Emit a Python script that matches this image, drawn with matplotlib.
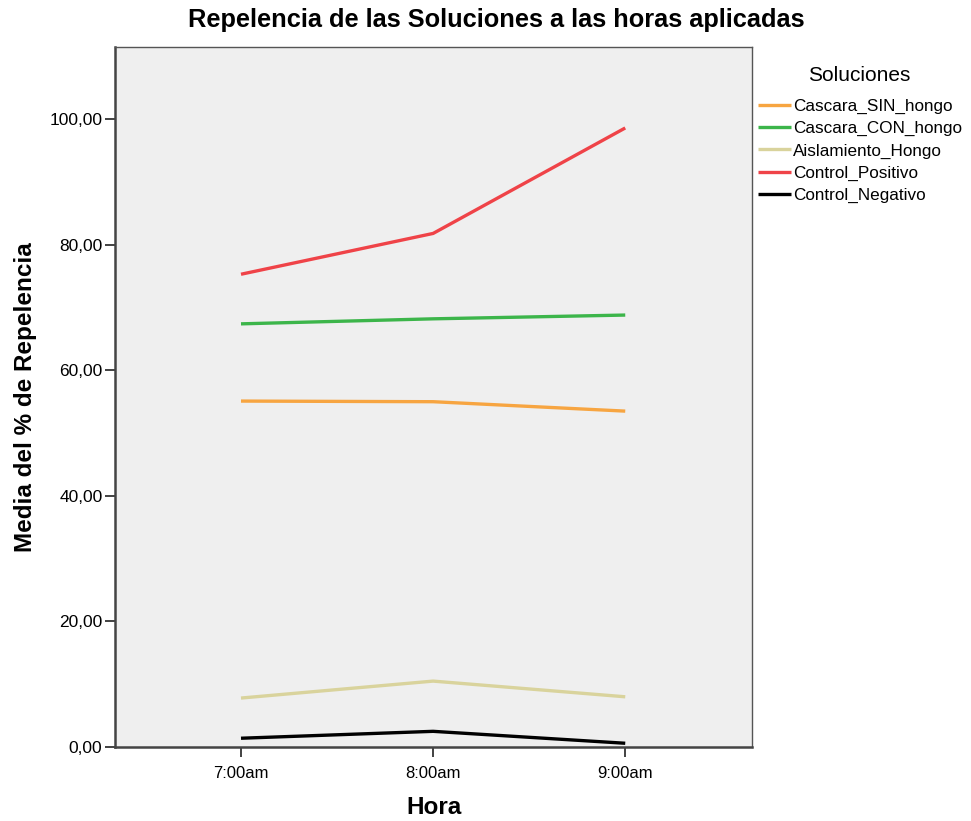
import matplotlib
matplotlib.use("Agg")
import matplotlib.pyplot as plt

horas = ["7:00am", "8:00am", "9:00am"]
series_names = ["Cascara_SIN_hongo", "Cascara_CON_hongo", "Aislamiento_Hongo",
                "Control_Positivo", "Control_Negativo"]
cascara_sin = [55.1, 55.0, 53.5]
cascara_con = [67.4, 68.2, 68.8]
aislamiento = [7.8, 10.5, 8.0]
control_pos = [75.3, 81.8, 98.6]
control_neg = [1.4, 2.5, 0.6]
colors = ["#f7a541", "#3cb54a", "#d9d39c", "#ef4348", "#000000"]
yticks = [0, 20, 40, 60, 80, 100]
ytick_labels = ["0,00", "20,00", "40,00", "60,00", "80,00", "100,00"]

plt.rcParams['font.family'] = ['Liberation Sans', 'DejaVu Sans']

fig = plt.figure(figsize=(9.71, 8.21), dpi=100)
ax = fig.add_axes([0.1184, 0.0901, 0.6561, 0.8527])
ax.set_facecolor("#efefef")

x = list(range(len(horas)))
for name, vals, c in zip(series_names,
                         [cascara_sin, cascara_con, aislamiento, control_pos, control_neg],
                         colors):
    ax.plot(x, vals, color=c, lw=2.4, label=name, solid_capstyle='butt')

ax.set_xlim(-0.656, 2.66)
ax.set_ylim(0, 111.5)
ax.set_xticks(x)
ax.set_xticklabels(horas, fontsize=12)
ax.set_yticks(yticks)
ax.set_yticklabels(ytick_labels, fontsize=12.5)
ax.tick_params(length=7.5, width=1.3, color="#333333", pad=1.5)
ax.tick_params(axis='x', pad=6)

for s in ["left", "bottom"]:
    ax.spines[s].set_color("#444444")
    ax.spines[s].set_linewidth(1.8)
for s in ["top", "right"]:
    ax.spines[s].set_color("#555555")
    ax.spines[s].set_linewidth(1.0)

ax.set_xlabel("Hora", fontsize=17.5, fontweight="bold", labelpad=11)
ax.set_ylabel("Media del % de Repelencia", fontsize=17.5, fontweight="bold", labelpad=9)
fig.text(0.511, 0.976, "Repelencia de las Soluciones a las horas aplicadas",
         ha="center", va="center", fontsize=18.3, fontweight="bold")

leg = ax.legend(loc="upper left", bbox_to_anchor=(0.99, 0.990), frameon=False,
                title="Soluciones", fontsize=12.3, title_fontsize=15,
                handlelength=1.95, handletextpad=0.1, labelspacing=0.42,
                borderaxespad=0.3)
leg._legend_box.sep = 10

fig.savefig("out.png", dpi=100)
